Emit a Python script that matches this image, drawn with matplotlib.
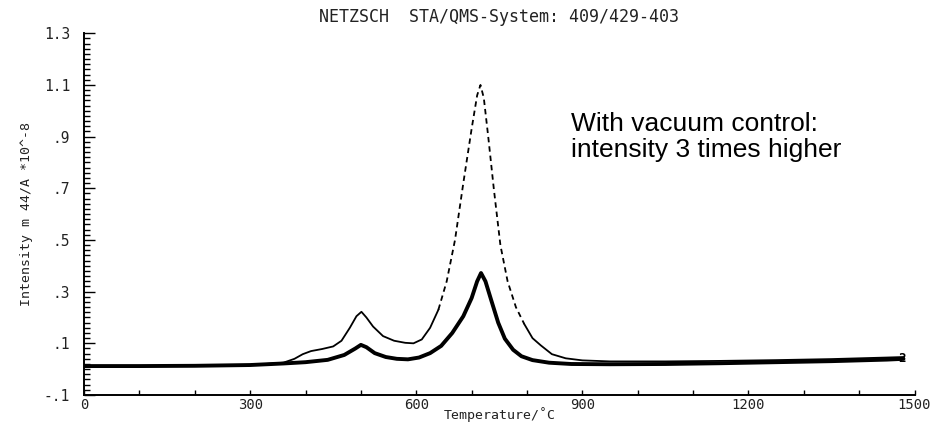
import matplotlib.pyplot as plt
from matplotlib.ticker import MultipleLocator, FixedLocator
import numpy as np

# lower curve (thick, without vacuum control)
temp_lo = [0, 100, 200, 300, 360, 400, 440, 470, 490, 500, 510, 525, 545, 565,
           585, 605, 625, 645, 665, 685, 700, 710, 717, 725, 735, 748, 760, 775,
           790, 810, 840, 880, 950, 1050, 1150, 1250, 1350, 1450, 1480]
int_lo = [0.012, 0.012, 0.013, 0.016, 0.022, 0.027, 0.036, 0.055, 0.080, 0.094,
          0.085, 0.062, 0.047, 0.040, 0.038, 0.045, 0.062, 0.090, 0.140, 0.205,
          0.275, 0.340, 0.372, 0.340, 0.270, 0.180, 0.118, 0.075, 0.050, 0.035,
          0.025, 0.020, 0.019, 0.020, 0.023, 0.027, 0.031, 0.037, 0.040]

# upper curve (thin, with vacuum control)
temp_hi = [0, 100, 200, 300, 360, 380, 395, 410, 430, 450, 465, 480, 492, 501,
           510, 522, 540, 560, 580, 595, 610, 625, 640, 655, 670, 685, 700, 710,
           716, 722, 730, 740, 752, 765, 780, 795, 810, 825, 845, 870, 900, 950,
           1050, 1150, 1250, 1350, 1450, 1480]
int_hi = [0.012, 0.012, 0.013, 0.016, 0.025, 0.040, 0.058, 0.070, 0.078, 0.088,
          0.110, 0.160, 0.205, 0.222, 0.200, 0.165, 0.128, 0.110, 0.102, 0.100,
          0.115, 0.160, 0.230, 0.340, 0.500, 0.720, 0.930, 1.060, 1.100, 1.050,
          0.900, 0.700, 0.480, 0.340, 0.240, 0.175, 0.120, 0.092, 0.058, 0.042,
          0.034, 0.030, 0.030, 0.032, 0.035, 0.039, 0.045, 0.047]

x_ticks = [0, 300, 600, 900, 1200, 1500]
x_labels = ["0", "300", "600", "900", "1200", "1500"]
y_ticks = [1.3, 1.1, 0.9, 0.7, 0.5, 0.3, 0.1, -0.1]
y_labels = ["1.3", "1.1", ".9", ".7", ".5", ".3", ".1", "-.1"]

mono = "DejaVu Sans Mono"

fig = plt.figure(figsize=(9.38, 4.24), dpi=100)
ax = fig.add_axes([0.0896, 0.0684, 0.8854, 0.8531])

ax.plot(temp_lo, int_lo, color="black", lw=2.8, solid_capstyle="round")

t_hi = np.array(temp_hi)
i_hi = np.array(int_hi)
a = (t_hi <= 640)
b = (t_hi >= 640) & (t_hi <= 795)
c = (t_hi >= 795)
ax.plot(t_hi[a], i_hi[a], color="black", lw=1.3)
ax.plot(t_hi[b], i_hi[b], color="black", lw=1.3, linestyle=(0, (3, 2.2)))
ax.plot(t_hi[c], i_hi[c], color="black", lw=1.3)

ax.text(1478, 0.042, "2", fontsize=9, fontfamily=mono, fontweight="bold",
        ha="center", va="center")

ax.set_xlim(0, 1500)
ax.set_ylim(-0.1, 1.3)

ax.xaxis.set_major_locator(FixedLocator(x_ticks))
ax.set_xticklabels(x_labels)
ax.xaxis.set_minor_locator(MultipleLocator(100))
ax.yaxis.set_major_locator(FixedLocator(y_ticks))
ax.set_yticklabels(y_labels)
ax.yaxis.set_minor_locator(MultipleLocator(0.02))

ax.tick_params(axis="both", which="both", direction="in", colors="black")
ax.tick_params(axis="x", which="both", length=3.5, width=1, pad=2,
               labelsize=10)
ax.tick_params(axis="y", which="major", length=8, width=1, pad=10,
               labelsize=10.5)
ax.tick_params(axis="y", which="minor", length=4, width=1)
for lbl in ax.get_xticklabels() + ax.get_yticklabels():
    lbl.set_fontfamily(mono)
    lbl.set_color("#222222")

for s in ["top", "right"]:
    ax.spines[s].set_visible(False)
for s in ["left", "bottom"]:
    ax.spines[s].set_linewidth(1.4)

ax.set_xlabel("Temperature/˚C", fontfamily=mono, fontsize=9.5,
              color="#222222")
ax.xaxis.set_label_coords(0.5, -0.034)
ax.set_ylabel("Intensity m 44/A *10^-8", fontfamily=mono, fontsize=9.5,
              labelpad=8, color="#222222")
ax.set_title("NETZSCH  STA/QMS-System: 409/429-403", fontfamily=mono,
             fontsize=12, pad=8, color="#222222")

ax.text(880, 0.995, "With vacuum control:\nintensity 3 times higher",
        fontfamily="Liberation Sans", fontsize=19, ha="left", va="top",
        linespacing=1.1)

fig.savefig("out.png", dpi=100)
